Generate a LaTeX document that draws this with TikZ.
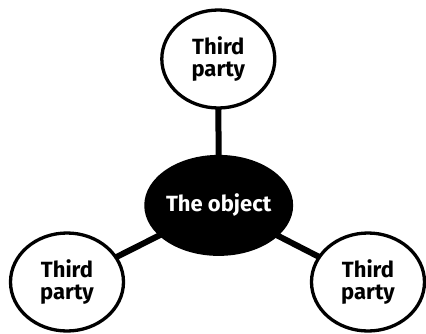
\documentclass[tikz,border=0pt]{standalone}
\usepackage{fontspec}
\setmainfont{Fira Sans}
\usetikzlibrary{shapes.geometric,backgrounds}
\tikzset{
  party/.style={ellipse, draw=black, line width=3.3pt, fill=white, inner sep=0pt,
    minimum width=113pt, minimum height=98pt, align=center,
    font=\fontsize{22}{22.5}\selectfont\bfseries},
  objnode/.style={ellipse, fill=black, text=white, inner sep=0pt,
    minimum width=139pt, minimum height=101pt,
    font=\fontsize{22}{22.5}\selectfont\bfseries},
  link/.style={line width=6pt, black}
}
\begin{document}
\begin{tikzpicture}[x=1pt,y=1pt]
\useasboundingbox (0,0) rectangle (426,333);
\node[objnode] (obj) at (218.7,127.6) {The object};
\node[party] (top) at (218.3,274) {Third\\party};
\node[party] (left) at (67,51) {Third\\party};
\node[party] (right) at (368,51) {Third\\party};
\begin{scope}[on background layer]
\draw[link] (obj.center) -- (top.center);
\draw[link] (obj.center) -- (left.center);
\draw[link] (obj.center) -- (right.center);
\end{scope}
\end{tikzpicture}
\end{document}
